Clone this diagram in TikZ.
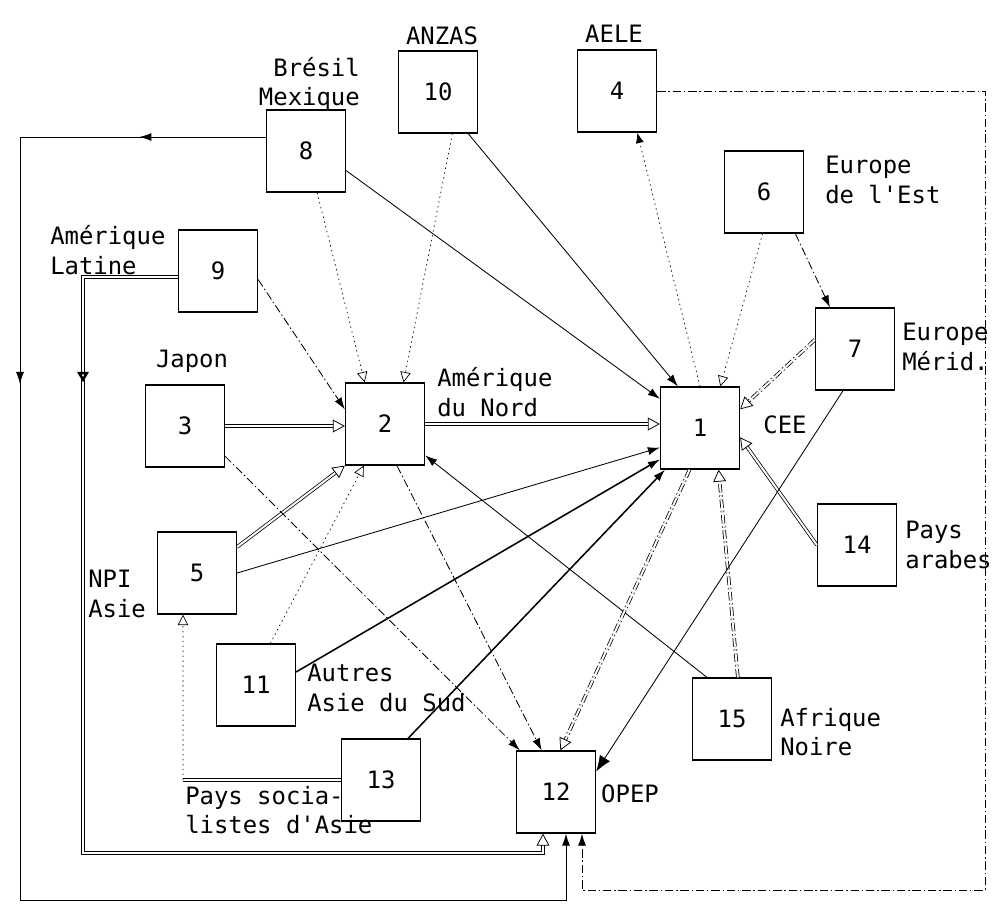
\documentclass[tikz,border=0pt]{standalone}
\usepackage{fontspec}
\newfontfamily\typo{DejaVu Sans Mono}[Ligatures=TeXOff]
\usetikzlibrary{arrows.meta,positioning,calc,decorations.markings}
\tikzset{
  bx/.style={draw, line width=0.9pt, minimum width=1.975cm, minimum height=2.05cm,
             inner sep=0pt, font=\typo\fontsize{17}{21}\selectfont},
  lab/.style={inner sep=0pt, align=left, font=\typo\fontsize{17}{21}\selectfont},
  flx/.style={-{Latex[length=3mm, width=2mm]}, line width=0.6pt},
  fort/.style={flx, line width=1.1pt},
  mix/.style={flx, dash pattern=on 6pt off 2pt on 1pt off 2pt},
  pnt/.style={-{Triangle[open, length=2.6mm, width=2.6mm]}, line width=0.5pt,
              dash pattern=on 1pt off 2.5pt},
  dbl/.style={-{Triangle[open, length=3mm, width=3.2mm]}, line width=0.55pt,
              double, double distance=1.4pt},
  dmix/.style={dbl, dash pattern=on 6pt off 2pt on 1pt off 2pt},
  ret/.style={flx, postaction={decorate, decoration={markings,
      mark=at position 0.078 with {\arrow{Latex[length=3mm, width=2mm]}},
      mark=at position 0.304 with {\arrow{Latex[length=3mm, width=2mm]}}}}},
  retd/.style={dbl, postaction={decorate, decoration={markings,
      mark=at position 0.174 with {\arrow{Triangle[open, length=2.6mm, width=2.8mm]}}}}},
}
\begin{document}
\begin{tikzpicture}[x=0.025cm, y=-0.025cm]
  \useasboundingbox (0,0) rectangle (1000,904);
  % les quinze zones
  \node[bx] (r1) at (700,428) {1};
  \node[bx] (r2) at (385,424) {2};
  \node[bx] (r3) at (185,426) {3};
  \node[bx] (r4) at (617,91) {4};
  \node[bx] (r5) at (197,573) {5};
  \node[bx] (r6) at (764,192) {6};
  \node[bx] (r7) at (855,349) {7};
  \node[bx] (r8) at (306,151) {8};
  \node[bx] (r9) at (218,271) {9};
  \node[bx] (r10) at (438,92) {10};
  \node[bx] (r11) at (256,685) {11};
  \node[bx] (r12) at (556,792) {12};
  \node[bx] (r13) at (381,780) {13};
  \node[bx] (r14) at (857,545) {14};
  \node[bx] (r15) at (732,719) {15};
  % noms
  \node[lab] at (442,36) {ANZAS};
  \node[lab] at (614,34) {AELE};
  \node[lab, anchor=east, align=right] at (360,84) {Brésil\\Mexique};
  \node[lab, anchor=west] at (825,180) {Europe\\de l'Est};
  \node[lab, anchor=west] at (50,250) {Amérique\\Latine};
  \node[lab] at (192,361) {Japon};
  \node[lab, anchor=west] at (437,392) {Amérique\\du Nord};
  \node[lab] at (785,425) {CEE};
  \node[lab, anchor=west] at (902,347) {Europe\\Mérid.};
  \node[lab, anchor=west] at (905,545) {Pays\\arabes};
  \node[lab, anchor=west] at (88,594) {NPI\\Asie};
  \node[lab, anchor=west] at (307,688) {Autres\\Asie du Sud};
  \node[lab, anchor=west] at (185,810) {Pays socia-\\listes d'Asie};
  \node[lab] at (630,794) {OPEP};
  \node[lab, anchor=west] at (780,732) {Afrique\\Noire};
  % coins des retours
  \coordinate (g4) at (985,890);
  \coordinate (g8) at (20,900);
  \coordinate (g9) at (83,853);
  \coordinate (k13) at (183,780);
  % flux
  \draw[dbl] (r3.east) -- (r3.east -| r2.west);
  \draw[dbl] (r2.east) -- (r2.east -| r1.west);
  \draw[dbl] (r5.33) -- (r2.south west);
  \draw[flx] (r5.east) -- (r1.206);
  \draw[fort] (r11.18) -- (r1.218);
  \draw[fort] (r13.57) -- (r1.230);
  \draw[flx] (r8.334) -- (r1.144);
  \draw[flx] (r10.306) -- (r1.118);
  \draw[pnt] (r10.289) -- (r2.66);
  \draw[pnt] (r8.285) -- (r2.116);
  \draw[mix] (r9.348) -- (r2.160);
  \draw[pnt] (r11.71) -- (r2.243);
  \draw[flx] (r15.121) -- (r2.322);
  \draw[dmix] (r15.82) -- (r1.294);
  \draw[dbl] (r14.west) -- (r1.347);
  \draw[dmix] (r7.167) -- (r1.25);
  \draw[mix] (r6.307) -- (r7.121);
  \draw[pnt] (r6.268) -- (r1.64);
  \draw[pnt, -{Latex[length=2.6mm, width=2mm]}] (r1.north) -- (r4.296);
  \draw[flx, -{Latex[length=4mm, width=3mm]}] (r7.254) -- (r12.27);
  \draw[mix] (r3.323) -- (r12.131);
  \draw[mix] (r2.286) -- (r12.109);
  \draw[dmix] (r1.256) -- (r12.84);
  \draw[mix] (r4.east) -| (g4) -| ([xshift=0.65cm]r12.south);
  \draw[ret] ([yshift=0.35cm]r8.west) -| (g8) -| ([xshift=0.25cm]r12.south);
  \draw[retd] ([yshift=-0.15cm]r9.west) -| (g9) -| ([xshift=-0.325cm]r12.south);
  \draw[dbl, -] (r13.west) -- (k13);
  \draw[pnt] (k13) -- ([xshift=-0.35cm]r5.south);
\end{tikzpicture}
\end{document}
